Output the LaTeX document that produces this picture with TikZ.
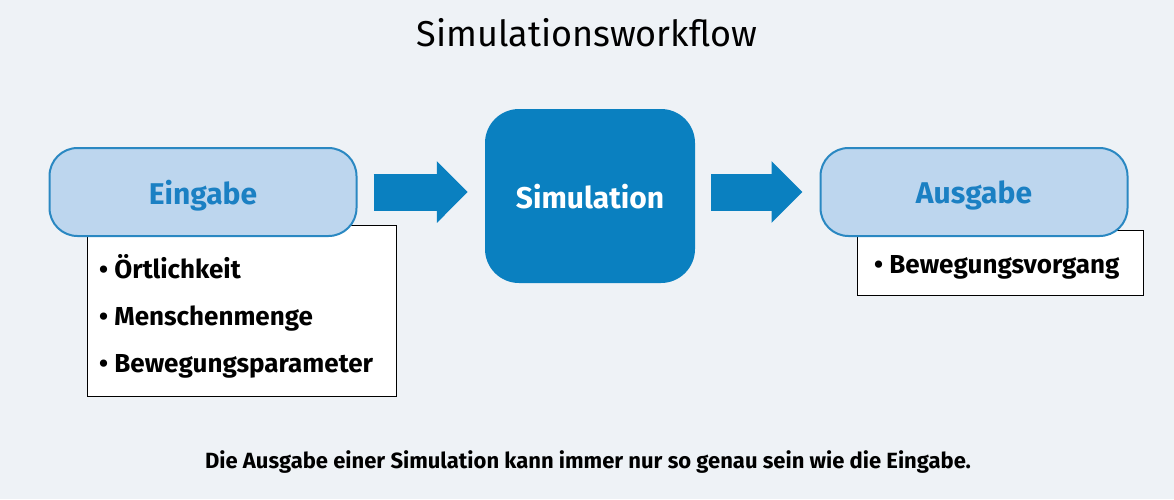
\documentclass[tikz,border=0pt]{standalone}
\usepackage{fontspec}
\setmainfont{Fira Sans}
\usetikzlibrary{arrows.meta}
\definecolor{bgcol}{HTML}{EEF2F6}
\definecolor{simblue}{HTML}{0A80C0}
\definecolor{boxfill}{HTML}{BDD6EE}
\definecolor{boxline}{HTML}{2A88C2}
\definecolor{boxtext}{HTML}{1B80C3}
\begin{document}
\begin{tikzpicture}[x=1pt, y=-1pt,
    box/.style = {draw=boxline, fill=boxfill, line width=2pt, rounded corners=28pt, minimum width=307pt, minimum height=88pt, text depth=0pt, text=boxtext, font=\bfseries\fontsize{30}{32}\selectfont},
    simbox/.style = {fill=simblue, rounded corners=34pt, minimum width=210pt, minimum height=174pt, text depth=0pt, text=white, font=\bfseries\fontsize{30}{32}\selectfont},
    list/.style = {draw=black, fill=white, line width=1pt, anchor=north west},
    items/.style = {anchor=base west, inner sep=0pt, align=left, font=\bfseries\fontsize{26}{47}\selectfont},
    bigarrow/.style = {draw=simblue, line width=37pt, -{Triangle[width=60pt,length=31pt]}, shorten <=16pt, shorten >=17pt}]
    \fill[bgcol] (0,0) rectangle (1174,499);
    \node[font=\fontsize{36}{40}\selectfont] (title) at (587,33) {Simulationsworkflow};
    % Eingabe
    \node[list, minimum width=309pt, minimum height=171pt] (einlist) at (87,225) {};
    \node[items] (einitems) at (99,372) {• Örtlichkeit\\• Menschenmenge\\• Bewegungsparameter};
    \node[box] (ein) at (203,192) {Eingabe};
    % Simulation
    \node[simbox] (sim) at (590,196) {Simulation};
    % Ausgabe
    \node[list, minimum width=286pt, minimum height=65pt] (auslist) at (857,230) {};
    \node[items] (ausitems) at (874,273) {• Bewegungsvorgang};
    \node[box] (aus) at (974,192) {Ausgabe};
    \draw[bigarrow] (ein.east) -- (ein.east -| sim.west);
    \draw[bigarrow] (sim.east |- aus.west) -- (aus.west);
    \node[font=\bfseries\fontsize{22}{24}\selectfont] (note) at (588,462) {Die Ausgabe einer Simulation kann immer nur so genau sein wie die Eingabe.};
\end{tikzpicture}
\end{document}
